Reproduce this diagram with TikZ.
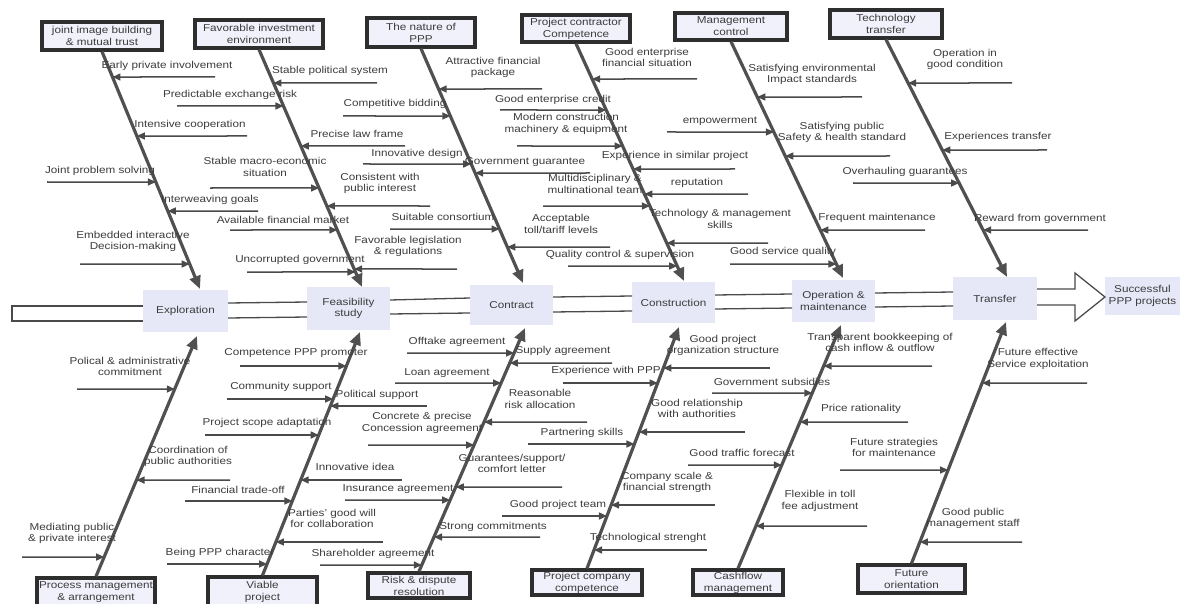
\documentclass[tikz,border=0pt]{standalone}
\usepackage{fontspec}
\setmainfont{Liberation Sans}[FakeStretch=1.17]
\usetikzlibrary{arrows.meta}
\definecolor{txt}{HTML}{3C3C3C}
\definecolor{ln}{HTML}{4A4A4A}
\definecolor{bn}{HTML}{505050}
\definecolor{stagefill}{HTML}{E6E8F7}
\definecolor{catfill}{HTML}{F0F1FA}
\definecolor{catdraw}{HTML}{2E2E2E}
\newcommand\rib[7]{%
  \coordinate (#1s) at (#5,#4);
  \coordinate (#1e) at (intersection of #2--#3 and 0,#4--100,#4);
  \draw[ribline] (#1s) -- (#1e);
  \node[lab] (#1l) at (#6) {#7};
}
\begin{document}
\begin{tikzpicture}[x=1pt,y=-1pt,
  lab/.style={align=center, inner sep=0pt, text=txt, font=\fontsize{10}{11.5}\selectfont},
  ribline/.style={draw=ln, line width=1.5pt, -{Triangle[length=8pt,width=7pt]}},
  bone/.style={draw=bn, line width=3.2pt, -{Triangle[length=13pt,width=11pt]}},
  spine/.style={draw=ln, line width=1.3pt},
  stage/.style={fill=stagefill, align=center, inner sep=0pt, text=txt, font=\fontsize{10}{11.5}\selectfont},
  cat/.style={draw=catdraw, line width=3.2pt, fill=catfill, align=center, inner sep=0pt, text=txt, font=\fontsize{10}{12}\selectfont}]
\useasboundingbox (0,0) rectangle (1182,604);
\fill[white] (0,0) rectangle (1182,604);

% stage nodes
\node[stage, minimum width=85pt, minimum height=42pt] (S1) at (185.5,311) {Exploration};
\node[stage, minimum width=83pt, minimum height=43pt] (S2) at (348.5,308.5) {Feasibility\\study};
\node[stage, minimum width=83pt, minimum height=40pt] (S3) at (511.5,305) {Contract};
\node[stage, minimum width=83pt, minimum height=41pt] (S4) at (673.5,302.5) {Construction};
\node[stage, minimum width=83pt, minimum height=42pt] (S5) at (833.5,301) {Operation \&\\maintenance};
\node[stage, minimum width=84pt, minimum height=43pt] (S6) at (995,298.5) {Transfer};
\node[stage, minimum width=75pt, minimum height=38pt] (S7) at (1142.5,296) {Successful\\PPP projects};

% spine
\draw[spine] (143,306) -- (12,306) -- (12,321) -- (143,321);
\draw[spine] (228,303) -- (307,302);
\draw[spine] (228,318) -- (307,317);
\draw[spine] (390,300) -- (470,298);
\draw[spine] (390,314) -- (470,313);
\draw[spine] (553,297) -- (632,296);
\draw[spine] (553,312) -- (632,311);
\draw[spine] (715,295) -- (792,294);
\draw[spine] (715,309) -- (792,308);
\draw[spine] (875,293) -- (953,292);
\draw[spine] (875,307) -- (953,306);
\draw[spine, line join=miter] (1037,289) -- (1075,289) -- (1075,273) -- (1105,297) -- (1075,321) -- (1075,305) -- (1037,305);

% category boxes
\node[cat, minimum width=120pt, minimum height=28pt] (T1) at (102,36) {joint image building\\\& mutual trust};
\node[cat, minimum width=128pt, minimum height=28pt] (T2) at (259,34) {Favorable investment\\environment};
\node[cat, minimum width=108pt, minimum height=29pt] (T3) at (421,32.5) {The nature of\\PPP};
\node[cat, minimum width=108pt, minimum height=27pt] (T4) at (576,28.5) {Project contractor\\Competence};
\node[cat, minimum width=112pt, minimum height=27pt] (T5) at (731,26.5) {Management\\control};
\node[cat, minimum width=112pt, minimum height=28pt] (T6) at (886,24) {Technology\\transfer};
\node[cat, minimum width=118pt, minimum height=28pt] (B1) at (96,592) {Process management\\\& arrangement};
\node[cat, minimum width=109pt, minimum height=29pt] (B2) at (262.5,591.5) {Viable\\project};
\node[cat, minimum width=102pt, minimum height=25pt] (B3) at (419,585.5) {Risk \& dispute\\resolution};
\node[cat, minimum width=110pt, minimum height=25pt] (B4) at (587,582.5) {Project company\\competence};
\node[cat, minimum width=90pt, minimum height=25pt] (B5) at (738,582.5) {Cashflow\\management};
\node[cat, minimum width=107pt, minimum height=28pt] (B6) at (911.5,579) {Future\\orientation};

% bone coordinates
\coordinate (a1) at (T1.south); \coordinate (E1) at (200,289);
\coordinate (a2) at (T2.south); \coordinate (E2) at (362,287);
\coordinate (a3) at (T3.south); \coordinate (E3) at (523,283);
\coordinate (a4) at (T4.south); \coordinate (E4) at (684,281);
\coordinate (a5) at (T5.south); \coordinate (E5) at (843,278);
\coordinate (a6) at (T6.south); \coordinate (E6) at (1007,277);
\coordinate (a7) at (B1.north); \coordinate (F1) at (197,336);
\coordinate (a8) at (B2.north); \coordinate (F2) at (360,332);
\coordinate (a9) at (B3.north); \coordinate (F3) at (525,328);
\coordinate (a10) at (B4.north); \coordinate (F4) at (679,327);
\coordinate (a11) at (B5.north); \coordinate (F5) at (841,325);
\coordinate (a12) at (B6.north); \coordinate (F6) at (1006,322);

\foreach \s/\e in {a1/E1,a2/E2,a3/E3,a4/E4,a5/E5,a6/E6,a7/F1,a8/F2,a9/F3,a10/F4,a11/F5,a12/F6}
  \draw[bone] (\s) -- (\e);

% bone 1
\rib{r1}{a1}{E1}{77}{215}{167,66}{Early private involvement}
\rib{r2}{a1}{E1}{136}{247}{190,125}{Intensive cooperation}
\rib{r3}{a1}{E1}{182}{47}{100,171}{Joint problem solving}
\rib{r4}{a1}{E1}{211}{258}{210,200}{Interweaving goals}
\rib{r5}{a1}{E1}{264}{80}{133,241.5}{Embedded interactive\\Decision-making}
% bone 2
\rib{r6}{a2}{E2}{83}{377}{330,71}{Stable political system}
\rib{r7}{a2}{E2}{106}{177}{230,95}{Predictable exchange risk}
\rib{r8}{a2}{E2}{146}{405}{357,134}{Precise law frame}
\rib{r9}{a2}{E2}{188}{210}{265,167}{Stable macro-economic\\situation}
\rib{r10}{a2}{E2}{206}{430}{380,183.5}{Consistent with\\public interest}
\rib{r11}{a2}{E2}{230}{230}{283,220}{Available financial market}
\rib{r12}{a2}{E2}{269}{457}{408,246.5}{Favorable legislation\\\& regulations}
\rib{r13}{a2}{E2}{272}{247}{300,260}{Uncorrupted government}
% bone 3
\rib{r14}{a3}{E3}{89}{542}{493,67.5}{Attractive financial\\package}
\rib{r15}{a3}{E3}{116}{343}{395,104}{Competitive bidding}
\rib{r16}{a3}{E3}{164}{363}{417,154}{Innovative design}
\rib{r17}{a3}{E3}{173}{590}{525,162}{Government guarantee}
\rib{r18}{a3}{E3}{229}{390}{443,217}{Suitable consortium}
\rib{r19}{a3}{E3}{247}{610}{561,224}{Acceptable\\toll/tariff levels}
% bone 4
\rib{r20}{a4}{E4}{79}{697}{647,57.5}{Good enterprise\\financial situation}
\rib{r21}{a4}{E4}{110}{500}{553,100}{Good enterprise credit}
\rib{r22}{a4}{E4}{146}{517}{566,124}{Modern construction\\machinery \& equipment}
\rib{r23}{a4}{E4}{169}{735}{675,156}{Experience in similar project}
\rib{r24}{a4}{E4}{206}{543}{595,184}{Multidisciplinary \&\\multinational team}
\rib{r25}{a4}{E4}{194}{748}{697,183}{reputation}
\rib{r26}{a4}{E4}{243}{768}{720,219}{Technology \& management\\skills}
\rib{r27}{a4}{E4}{266}{568}{620,255}{Quality control \& supervision}
% bone 5
\rib{r28}{a5}{E5}{97}{862}{812,74.5}{Satisfying environmental\\Impact standards}
\rib{r29}{a5}{E5}{132}{667}{720,121}{empowerment}
\rib{r30}{a5}{E5}{156}{890}{842,132.5}{Satisfying public\\Safety \& health standard}
\rib{r31}{a5}{E5}{230}{925}{877,218}{Frequent maintenance}
\rib{r32}{a5}{E5}{264}{730}{783,252}{Good service quality}
% bone 6
\rib{r33}{a6}{E6}{83}{1012}{965,59.5}{Operation in\\good condition}
\rib{r34}{a6}{E6}{150}{1047}{998,137}{Experiences transfer}
\rib{r35}{a6}{E6}{183}{853}{905,172}{Overhauling guarantees}
\rib{r36}{a6}{E6}{230}{1088}{1040,219}{Reward from government}
% bone 7
\rib{r37}{a7}{F1}{389}{77}{130,366.5}{Polical \& administrative\\commitment}
\rib{r38}{a7}{F1}{480}{230}{188,456.5}{Coordination of\\public authorities}
\rib{r39}{a7}{F1}{557}{22}{72,533.5}{Mediating public\\\& private interest}
% bone 8
\rib{r40}{a8}{F2}{366}{240}{296,353}{Competence PPP promoter}
\rib{r41}{a8}{F2}{399}{227}{281,387}{Community support}
\rib{r42}{a8}{F2}{406}{427}{377,395}{Political support}
\rib{r43}{a8}{F2}{435}{205}{267,423}{Project scope adaptation}
\rib{r44}{a8}{F2}{480}{402}{355,467}{Innovative idea}
\rib{r45}{a8}{F2}{501}{185}{238,490}{Financial trade-off}
\rib{r46}{a8}{F2}{542}{383}{332,518.5}{Parties' good will\\for collaboration}
\rib{r47}{a8}{F2}{564}{167}{220,553}{Being PPP character}
% bone 9
\rib{r48}{a9}{F3}{353}{407}{457,342}{Offtake agreement}
\rib{r49}{a9}{F3}{363}{612}{563,351}{Supply agreement}
\rib{r50}{a9}{F3}{383}{395}{447,373}{Loan agreement}
\rib{r51}{a9}{F3}{422}{587}{540,399}{Reasonable\\risk allocation}
\rib{r52}{a9}{F3}{445}{368}{422,423}{Concrete \& precise\\Concession agreement}
\rib{r53}{a9}{F3}{487}{562}{512,463.5}{Guarantees/support/\\comfort letter}
\rib{r54}{a9}{F3}{500}{345}{398,489}{Insurance agreement}
\rib{r55}{a9}{F3}{537}{540}{493,527}{Strong commitments}
\rib{r56}{a9}{F3}{565}{320}{373,554}{Shareholder agreement}
% bone 10
\rib{r57}{a10}{F4}{368}{770}{723,345.5}{Good project\\organization structure}
\rib{r58}{a10}{F4}{383}{563}{606,371}{Experience with PPP}
\rib{r59}{a10}{F4}{432}{745}{697,408.5}{Good relationship\\with authorities}
\rib{r60}{a10}{F4}{444}{528}{582,433}{Partnering skills}
\rib{r61}{a10}{F4}{505}{715}{667,482.5}{Company scale \&\\financial strength}
\rib{r62}{a10}{F4}{516}{502}{558,505}{Good project team}
\rib{r63}{a10}{F4}{550}{707}{648,538}{Technological strenght}
% bone 11
\rib{r64}{a11}{F5}{366}{932}{880,342.5}{Transparent bookkeeping of\\cash inflow \& outflow}
\rib{r65}{a11}{F5}{393}{712}{772,382}{Government subsidies}
\rib{r66}{a11}{F5}{422}{908}{861,409}{Price rationality}
\rib{r67}{a11}{F5}{465}{688}{742,453}{Good traffic forecast}
\rib{r68}{a11}{F5}{526}{867}{820,501}{Flexible in toll\\fee adjustment}
% bone 12
\rib{r69}{a12}{F6}{383}{1087}{1038,359}{Future effective\\Service exploitation}
\rib{r70}{a12}{F6}{470}{840}{894,447.5}{Future strategies\\for maintenance}
\rib{r71}{a12}{F6}{542}{1022}{973,518.5}{Good public\\management staff}
\end{tikzpicture}
\end{document}
